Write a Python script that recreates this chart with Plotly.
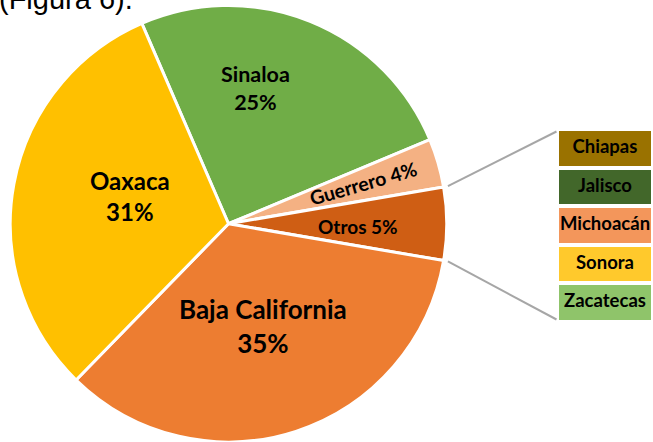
import math
import plotly.graph_objects as go

# ---------------- data ----------------
top_text = "(Figura 6)."
pie_labels = ["Sinaloa", "Guerrero", "Otros", "Baja California", "Oaxaca"]
pie_values = [25.2, 3.6, 5.4, 34.6, 31.2]
pie_colors = ["#70AD47", "#F4B183", "#CF5E14", "#ED7D31", "#FFC000"]

otros_states = ["Chiapas", "Jalisco", "Michoacán", "Sonora", "Zacatecas"]
otros_values = [1, 1, 1, 1, 1]
otros_colors = ["#9A7200", "#42672A", "#F3965B", "#FFC92C", "#8FC46A"]

# ---------------- layout helpers ----------------
W, H = 653, 442
def px2paper(x, y):
    return x / W, 1 - y / H

# pie geometry (pixels)
R = 218.25
CX, CY = 228.5, 223.75
START = -23.4
pie_dom_x = [(CX - R) / W, (CX + R) / W]
pie_dom_y = [0, 2 * R / H]

# bar axes geometry
XDOM = [0.8, 1.0]
XR = [-0.8604, 0.5]
YR = [-3.109, 8.342]

def bar_px(xv, yv):
    x0 = XDOM[0] * W
    xpx = x0 + (xv - XR[0]) / (XR[1] - XR[0]) * (XDOM[1] - XDOM[0]) * W
    ypx = H - (yv - YR[0]) / (YR[1] - YR[0]) * H
    return xpx, ypx

fig = go.Figure()

fig.add_trace(go.Pie(
    labels=pie_labels, values=pie_values, sort=False, direction="clockwise",
    rotation=START, marker=dict(colors=pie_colors, line=dict(color="white", width=3)),
    textinfo="none", hoverinfo="label+percent", showlegend=False,
    domain=dict(x=pie_dom_x, y=pie_dom_y),
))

# stacked bar of "Otros" (top to bottom order in lists -> stack bottom first)
for name, val, col in reversed(list(zip(otros_states, otros_values, otros_colors))):
    fig.add_trace(go.Bar(
        x=[0], y=[val], width=1, name=name,
        marker=dict(color=col, line=dict(color="white", width=4)),
        showlegend=False, hoverinfo="name",
    ))

# labels for the bar
cum = 0
centers = []
for v in reversed(otros_values):
    centers.append(cum + v / 2)
    cum += v
centers = list(reversed(centers))
fig.add_trace(go.Scatter(
    x=[0] * len(otros_states), y=centers, mode="text", text=otros_states,
    textfont=dict(family="Lato", size=18.5, color="black", weight=700),
    showlegend=False, hoverinfo="skip", cliponaxis=True,
))

# pie labels
label_pos = {
    "Sinaloa": (255, 88, 21.5, 0, True),
    "Guerrero": (363, 183, 19.5, -16, False),
    "Otros": (358, 227, 19, 0, False),
    "Baja California": (263, 326, 26, 0, True),
    "Oaxaca": (130, 196, 24, 0, True),
}
annotations = []
for name, val in zip(pie_labels, pie_values):
    x, y, size, ang, two = label_pos[name]
    px, py = px2paper(x, y)
    txt = f"{name}<br>{round(val)}%" if two else f"{name} {round(val)}%"
    annotations.append(dict(
        x=px, y=py, xref="paper", yref="paper", text=txt, showarrow=False,
        textangle=ang, font=dict(family="Lato", size=size, color="black", weight=700),
        xanchor="center", yanchor="middle",
    ))

annotations.append(dict(
    x=0, y=1.043, xref="paper", yref="paper", text=top_text, showarrow=False,
    xanchor="left", yanchor="top", xshift=-3,
    font=dict(family="Liberation Sans", size=29, color="black"),
))

# connector lines from Otros slice edges to the bar corners
total = sum(pie_values)
idx = pie_labels.index("Otros")
a1 = START + sum(pie_values[:idx]) / total * 360
a2 = a1 + pie_values[idx] / total * 360
shapes = []
bar_top = sum(otros_values)
for ang, yv, inward in [(a1, bar_top, 2.5), (a2, 0, -2.5)]:
    rr = R * 1.02
    sx = CX + rr * math.sin(math.radians(ang))
    sy = CY - rr * math.cos(math.radians(ang))
    ex, ey = bar_px(-0.5, yv)
    ey += inward
    ex -= 0.5
    p0 = px2paper(sx, sy)
    p1 = px2paper(ex, ey)
    shapes.append(dict(type="line", xref="paper", yref="paper",
                       x0=p0[0], y0=p0[1], x1=p1[0], y1=p1[1],
                       line=dict(color="#A6A6A6", width=2)))

fig.update_layout(
    width=W, height=H, margin=dict(l=0, r=0, t=0, b=0),
    paper_bgcolor="white", plot_bgcolor="white",
    barmode="stack",
    xaxis=dict(domain=XDOM, range=XR, visible=False, fixedrange=True),
    yaxis=dict(domain=[0, 1], range=YR, visible=False, fixedrange=True),
    annotations=annotations, shapes=shapes,
)

fig.write_html(
    "out.html",
    config={"displayModeBar": False},
    post_script="document.body.style.margin='0';document.body.style.overflow='hidden';",
)
